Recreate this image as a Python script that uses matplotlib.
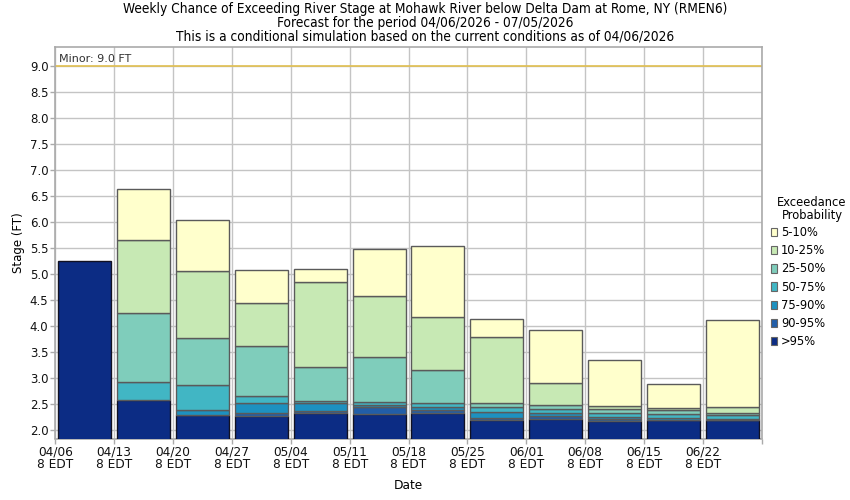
import matplotlib
matplotlib.use("Agg")
import matplotlib.pyplot as plt
from matplotlib.patches import Patch
import numpy as np

weeks = ["04/06", "04/13", "04/20", "04/27", "05/04", "05/11", "05/18",
         "05/25", "06/01", "06/08", "06/15", "06/22"]
tick_labels = [w + "\n8 EDT" for w in weeks]

# stage (FT) exceeded with given probability, per week
p95 = [5.25, 2.58, 2.29, 2.275, 2.33, 2.31, 2.33, 2.19, 2.21, 2.17, 2.19, 2.19]
p90 = [5.25, 2.58, 2.30, 2.33, 2.365, 2.44, 2.385, 2.23, 2.275, 2.21, 2.20, 2.20]
p75 = [5.25, 2.58, 2.385, 2.52, 2.52, 2.48, 2.44, 2.345, 2.33, 2.26, 2.24, 2.21]
p50 = [5.25, 2.92, 2.865, 2.66, 2.56, 2.54, 2.52, 2.44, 2.40, 2.34, 2.32, 2.29]
p25 = [5.25, 4.25, 3.77, 3.615, 3.21, 3.40, 3.15, 2.52, 2.48, 2.415, 2.39, 2.33]
p10 = [5.25, 5.65, 5.06, 4.44, 4.85, 4.58, 4.17, 3.79, 2.90, 2.46, 2.42, 2.44]
p05 = [5.25, 6.635, 6.04, 5.077, 5.096, 5.48, 5.54, 4.135, 3.92, 3.346, 2.885, 4.115]

levels = [p95, p90, p75, p50, p25, p10, p05]
labels = [">95%", "90-95%", "75-90%", "50-75%", "25-50%", "10-25%", "5-10%"]
colors = ["#0c2c84", "#225ea8", "#1d91c0", "#41b6c4", "#7fcdbb", "#c7e9b4", "#ffffcc"]

minor_stage = 9.0

cond = dict(fontstretch="condensed")

fig = plt.figure(figsize=(8.5, 5.0), dpi=100)
ax = fig.add_axes([0.0651, 0.123, 0.8310, 0.7836])

x = np.arange(len(weeks)) + 0.5
ax.set_axisbelow(True)
ax.grid(True, color="#c4c4c4", lw=1.0)

prev = np.zeros(len(weeks))
for lvl, col, lab in zip(levels, colors, labels):
    cur = np.array(lvl)
    h = cur - prev
    keep = h > 1e-9
    ec = "#111122" if lab == ">95%" else "#5a5a5a"
    ax.bar(x[keep], h[keep], bottom=prev[keep], width=0.9, color=col,
           edgecolor=ec, linewidth=1.0, zorder=3)
    prev = cur

ax.axhline(minor_stage, color="#e2c050", lw=1.2, zorder=2)
ax.text(0.07, minor_stage + 0.04, "Minor: 9.0 FT", fontsize=8, color="#333333",
        ha="left", va="bottom", zorder=4)

ax.set_xlim(0, 12)
ax.set_ylim(1.84, 9.377)
ax.set_xticks(np.arange(13))
ax.set_xticklabels(tick_labels + [""], fontsize=9.7, linespacing=1.0, **cond)
ax.set_yticks(np.arange(2.0, 9.01, 0.5))
ax.set_yticklabels([f"{v:.1f}" for v in np.arange(2.0, 9.01, 0.5)], fontsize=8.5)
ax.tick_params(axis="both", colors="#aaaaaa", length=3.5, width=1,
               labelcolor="#111111", pad=1.5)
for s in ax.spines.values():
    s.set_color("#aaaaaa")
    s.set_linewidth(1.2)

ax.set_xlabel("Date", fontsize=9.7, labelpad=5.5, **cond)
ax.set_ylabel("Stage (FT)", fontsize=8.5, labelpad=3.5)

fig.text(0.5, 0.996, "Weekly Chance of Exceeding River Stage at Mohawk River below Delta Dam at Rome, NY (RMEN6)\n"
         "Forecast for the period 04/06/2026 - 07/05/2026\n"
         "This is a conditional simulation based on the current conditions as of 04/06/2026",
         ha="center", va="top", fontsize=9.8, linespacing=0.98, **cond)

fig.text(812 / 850, 1 - 209 / 500, "Exceedance\nProbability", ha="center", va="center",
         fontsize=8.3, linespacing=1.0)

handles = [Patch(facecolor=c, edgecolor="#666666", linewidth=0.8, label=l)
           for c, l in zip(colors[::-1], labels[::-1])]
leg = fig.legend(handles=handles, loc="upper left", bbox_to_anchor=(771 / 850, 1 - 226 / 500),
                 frameon=False, fontsize=8.3, handlelength=0.5, handleheight=0.75,
                 handletextpad=0.35, labelspacing=0.45, borderpad=0, borderaxespad=0)

fig.savefig("out.png", dpi=100)
